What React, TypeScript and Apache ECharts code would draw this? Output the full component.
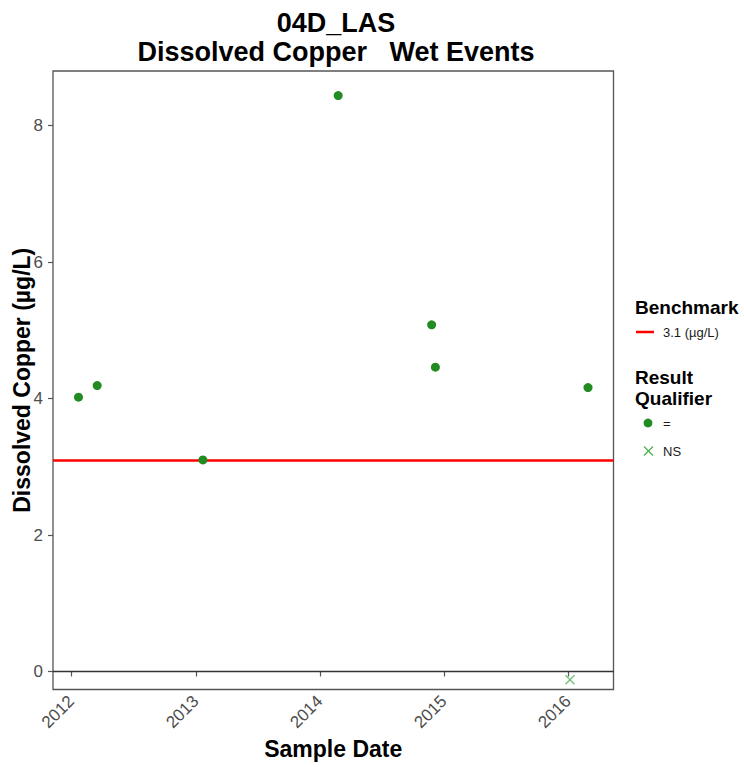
import React, { useEffect, useRef } from "react";
import * as echarts from "echarts";

const eqDates = ["2012-01-22", "2012-03-17", "2013-01-22", "2014-02-24", "2014-11-26", "2014-12-07", "2016-02-29"];
const eqValues = [4.02, 4.19, 3.1, 8.44, 5.08, 4.46, 4.16];
const nsDates = ["2016-01-07"];
const nsValues = [-0.12];
const benchmark = 3.1;
const yearTicks = ["2012-01-01", "2013-01-01", "2014-01-01", "2015-01-01", "2016-01-01"];
const yTicks = [0, 2, 4, 6, 8];
const xRange = ["2011-11-08", "2016-05-14"];
const yRange = [-0.264, 8.8];

const ts = (s: string) => new Date(s + "T00:00:00Z").getTime();
const FONT = "Liberation Sans, Arial, sans-serif";

export default function App() {
  const ref = useRef<HTMLDivElement>(null);
  useEffect(() => {
    if (!ref.current) return;
    const chart = echarts.init(ref.current, undefined, { renderer: "svg" });
    const xVals = yearTicks.map(ts);
    const legendText = (x: number, y: number, text: string, size: number, bold: boolean) => ({
      type: "text",
      x,
      y,
      style: {
        text,
        fontFamily: FONT,
        fontSize: size,
        fontWeight: bold ? "bold" : "normal",
        fill: bold ? "#000" : "#1a1a1a",
        verticalAlign: "middle",
        align: "left",
      },
    });
    chart.setOption({
      animation: false,
      backgroundColor: "#ffffff",
      textStyle: { fontFamily: FONT },
      title: {
        text: "04D_LAS\nDissolved Copper   Wet Events",
        left: 331,
        top: 3,
        textAlign: "center",
        textStyle: { fontFamily: FONT, fontSize: 27, fontWeight: "bold", color: "#000", lineHeight: 29 },
      },
      grid: {
        left: 53,
        top: 71,
        right: 130.5,
        bottom: 77.5,
        outerBoundsMode: "none",
        containLabel: false,
        show: true,
        borderColor: "#555",
        borderWidth: 1.3,
        backgroundColor: "#fff",
      },
      xAxis: {
        type: "value",
        min: ts(xRange[0]),
        max: ts(xRange[1]),
        name: "Sample Date",
        nameLocation: "middle",
        nameGap: 48,
        nameMoveOverlap: false,
        nameTextStyle: { fontFamily: FONT, fontSize: 23, fontWeight: "bold", color: "#000" },
        axisLine: { show: false },
        splitLine: { show: false },
        axisTick: { show: true, customValues: xVals, length: 5, lineStyle: { color: "#555", width: 1.2 } },
        axisLabel: {
          customValues: xVals,
          rotate: 45,
          margin: 9,
          fontSize: 17,
          color: "#4d4d4d",
          fontFamily: FONT,
          formatter: (v: number) => String(new Date(v).getUTCFullYear()),
        },
      },
      yAxis: {
        type: "value",
        min: yRange[0],
        max: yRange[1],
        name: "Dissolved Copper (µg/L)",
        nameLocation: "middle",
        nameGap: 20,
        nameMoveOverlap: false,
        nameRotate: 90,
        nameTextStyle: { fontFamily: FONT, fontSize: 23, fontWeight: "bold", color: "#000" },
        axisLine: { show: false },
        splitLine: { show: false },
        axisTick: { show: true, customValues: yTicks, length: 5, lineStyle: { color: "#555", width: 1.2 } },
        axisLabel: { customValues: yTicks, margin: 10, fontSize: 17, color: "#4d4d4d", fontFamily: FONT },
      },
      series: [
        {
          name: "=",
          type: "scatter",
          symbol: "circle",
          symbolSize: 9,
          itemStyle: { color: "#228B22", opacity: 1 },
          data: eqDates.map((d, i) => [ts(d), eqValues[i]]),
          z: 5,
          markLine: {
            silent: true,
            symbol: "none",
            label: { show: false },
            data: [
              { yAxis: 0, lineStyle: { color: "#333", width: 1.3, type: "solid" } },
              { yAxis: benchmark, lineStyle: { color: "#ff0000", width: 2.5, type: "solid" } },
            ],
          },
        },
        {
          name: "NS",
          type: "scatter",
          symbol: "path://M0,0L10,10M10,0L0,10",
          symbolSize: 9,
          itemStyle: { color: "none", borderColor: "#4cb24c", borderWidth: 1.3 },
          data: nsDates.map((d, i) => [ts(d), nsValues[i]]),
          z: 5,
        },
      ],
      graphic: [
        legendText(635, 307, "Benchmark", 19, true),
        { type: "line", shape: { x1: 636, y1: 332, x2: 654, y2: 332 }, style: { stroke: "#ff0000", lineWidth: 2.5 } },
        legendText(663, 332, "3.1 (µg/L)", 13, false),
        legendText(635, 377, "Result", 19, true),
        legendText(635, 398, "Qualifier", 19, true),
        { type: "circle", shape: { cx: 648, cy: 423, r: 4.4 }, style: { fill: "#228B22" } },
        legendText(663, 423, "=", 13, false),
        { type: "line", shape: { x1: 644, y1: 446.5, x2: 653, y2: 455.5 }, style: { stroke: "#4cb24c", lineWidth: 1.3 } },
        { type: "line", shape: { x1: 653, y1: 446.5, x2: 644, y2: 455.5 }, style: { stroke: "#4cb24c", lineWidth: 1.3 } },
        legendText(663, 451, "NS", 13, false),
      ],
    });
    return () => chart.dispose();
  }, []);
  return <div ref={ref} style={{ position: "fixed", left: 0, top: 0, width: 744, height: 767 }} />;
}
